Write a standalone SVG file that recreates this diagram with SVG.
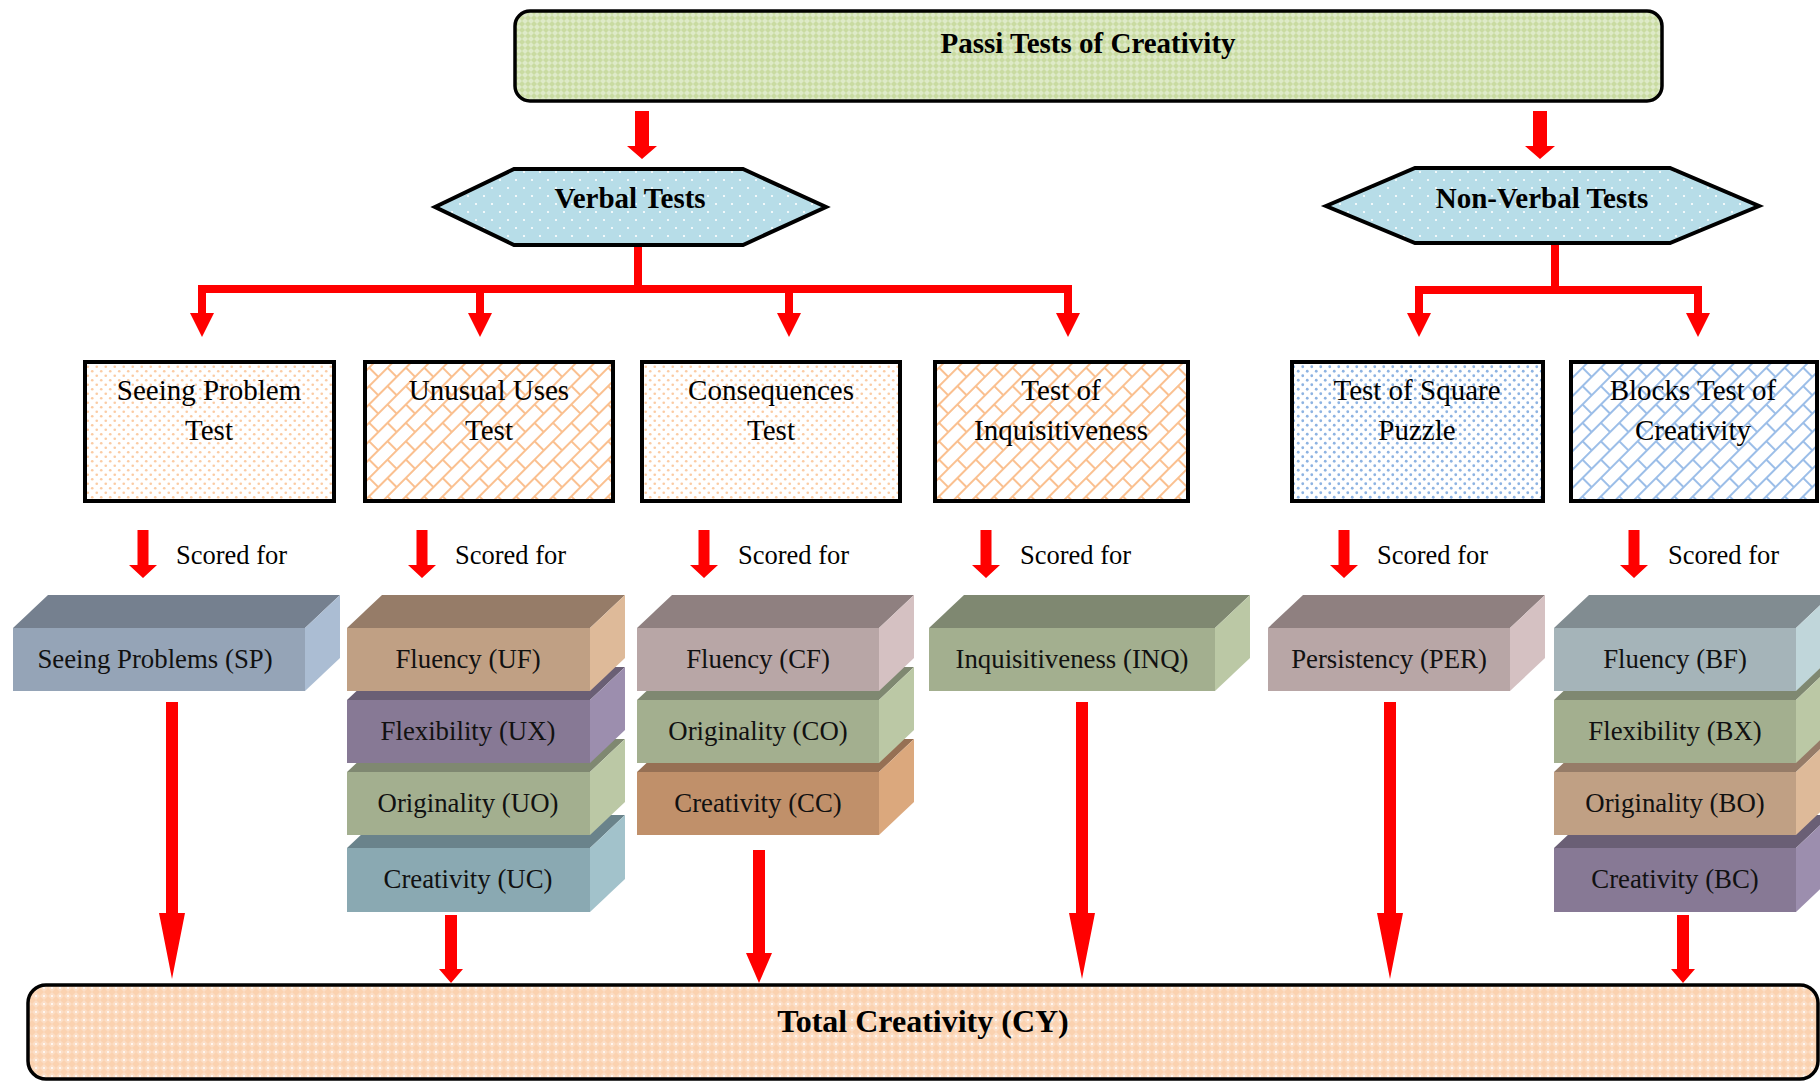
<svg xmlns="http://www.w3.org/2000/svg" width="1820" height="1081" viewBox="0 0 1820 1081">
<style>
.box{stroke:#000;stroke-width:4}
.rbox{stroke:#000;stroke-width:3.5}
.t{font-family:"Liberation Serif","Times New Roman",serif;fill:#000;text-anchor:middle}
.tb{font-family:"Liberation Serif","Times New Roman",serif;font-weight:bold;fill:#000;text-anchor:middle}
.s{font-family:"Liberation Serif","Times New Roman",serif;fill:#000;font-size:26.5px}
.bt{font-family:"Liberation Serif","Times New Roman",serif;fill:#111;font-size:26.8px;text-anchor:middle}
.red{fill:#FF0000}
.redl{stroke:#FF0000;stroke-width:8;fill:none}
</style>
<defs>
<pattern id="pGreen" width="6" height="6" patternUnits="userSpaceOnUse">
<rect width="6" height="6" fill="#C9DBA1"/>
<path d="M0 3 L3 0 L6 3 L3 6 Z" fill="#DEEAC8"/>
</pattern>
<pattern id="pBlue" width="16" height="16" patternUnits="userSpaceOnUse">
<rect width="16" height="16" fill="#B7DDE8"/>
<circle cx="4" cy="4" r="1.1" fill="#FFFFFF"/>
<circle cx="12" cy="12" r="1.1" fill="#FFFFFF"/>
</pattern>
<pattern id="pOrDot" width="9" height="9" patternUnits="userSpaceOnUse">
<rect width="9" height="9" fill="#FFFFFF"/>
<circle cx="2.25" cy="2.25" r="1.3" fill="#FBCBA3"/>
<circle cx="6.75" cy="6.75" r="1.3" fill="#FBCBA3"/>
</pattern>
<pattern id="pOrBrick" width="26" height="26" patternUnits="userSpaceOnUse" patternTransform="rotate(-45)">
<rect width="26" height="26" fill="#FFFFFF"/>
<path d="M0 1 H26 M0 14 H26 M1 0 V13 M14 13 V26" stroke="#FAC090" stroke-width="2"/>
</pattern>
<pattern id="pBlDot" width="9" height="9" patternUnits="userSpaceOnUse">
<rect width="9" height="9" fill="#FFFFFF"/>
<circle cx="2.25" cy="2.25" r="1.4" fill="#8DB3E2"/>
<circle cx="6.75" cy="6.75" r="1.4" fill="#8DB3E2"/>
</pattern>
<pattern id="pBlBrick" width="26" height="26" patternUnits="userSpaceOnUse" patternTransform="rotate(-45)">
<rect width="26" height="26" fill="#FFFFFF"/>
<path d="M0 1 H26 M0 14 H26 M1 0 V13 M14 13 V26" stroke="#9CBEE8" stroke-width="2"/>
</pattern>
<pattern id="pPeach" width="8" height="8" patternUnits="userSpaceOnUse">
<rect width="8" height="8" fill="#FBD2B0"/>
<path d="M0 4 L4 0 L8 4 L4 8 Z" fill="#FCDEC6"/>
<circle cx="4" cy="4" r="1" fill="#FFFFFF"/>
</pattern>
</defs>

<g id="connectors">
<polygon class="red" points="635,111 649,111 649,146 657,146 642,159 627,146 635,146"/>
<polygon class="red" points="1533,111 1547,111 1547,146 1555,146 1540,159 1525,146 1533,146"/>
<path class="redl" d="M638 245 V289 M198 289 H1072"/>
<polygon class="red" points="198,285 206,285 206,313 214,313 202,337 190,313 198,313"/>
<polygon class="red" points="476,285 484,285 484,313 492,313 480,337 468,313 476,313"/>
<polygon class="red" points="785,285 793,285 793,313 801,313 789,337 777,313 785,313"/>
<polygon class="red" points="1064,285 1072,285 1072,313 1080,313 1068,337 1056,313 1064,313"/>
<path class="redl" d="M1555 243 V290 M1415 290 H1702"/>
<polygon class="red" points="1415,286 1423,286 1423,313 1431,313 1419,337 1407,313 1415,313"/>
<polygon class="red" points="1694,286 1702,286 1702,313 1710,313 1698,337 1686,313 1694,313"/>
<polygon class="red" points="137.5,530 148.5,530 148.5,565 157,565 143,578 129,565 137.5,565"/>
<polygon class="red" points="416.5,530 427.5,530 427.5,565 436,565 422,578 408,565 416.5,565"/>
<polygon class="red" points="698.5,530 709.5,530 709.5,565 718,565 704,578 690,565 698.5,565"/>
<polygon class="red" points="980.5,530 991.5,530 991.5,565 1000,565 986,578 972,565 980.5,565"/>
<polygon class="red" points="1338.5,530 1349.5,530 1349.5,565 1358,565 1344,578 1330,565 1338.5,565"/>
<polygon class="red" points="1628.5,530 1639.5,530 1639.5,565 1648,565 1634,578 1620,565 1628.5,565"/>
<polygon class="red" points="166,702 178,702 178,913 185,913 172,979 159,913 166,913"/>
<polygon class="red" points="1076,702 1088,702 1088,913 1095,913 1082,979 1069,913 1076,913"/>
<polygon class="red" points="1384,702 1396,702 1396,913 1403,913 1390,979 1377,913 1384,913"/>
<polygon class="red" points="445,915 457,915 457,969 463,969 451,983 439,969 445,969"/>
<polygon class="red" points="1677,915 1689,915 1689,969 1695,969 1683,983 1671,969 1677,969"/>
<polygon class="red" points="753,850 765,850 765,953 772,953 759,983 746,953 753,953"/>
</g>

<g id="scored-labels">
<text class="s" x="176" y="564">Scored for</text>
<text class="s" x="455" y="564">Scored for</text>
<text class="s" x="738" y="564">Scored for</text>
<text class="s" x="1020" y="564">Scored for</text>
<text class="s" x="1377" y="564">Scored for</text>
<text class="s" x="1668" y="564">Scored for</text>
</g>

<g id="passi">
<rect class="rbox" x="515" y="11" width="1147" height="90" rx="15" fill="url(#pGreen)"/>
<text class="tb" x="1088" y="53" font-size="29">Passi Tests of Creativity</text>
</g>

<g id="verbal">
<polygon class="box" points="435,207 514,169 743,169 826,207 743,245 514,245" fill="url(#pBlue)"/>
<text class="tb" x="630" y="208" font-size="29">Verbal Tests</text>
</g>

<g id="nonverbal">
<polygon class="box" points="1326,206 1415,168 1670,168 1759,206 1670,243 1415,243" fill="url(#pBlue)"/>
<text class="tb" x="1542" y="208" font-size="29">Non-Verbal Tests</text>
</g>

<g id="seeing-problem-test">
<rect class="box" x="85" y="362" width="249" height="139" fill="url(#pOrDot)"/>
<text class="t" x="209" y="400" font-size="29">Seeing Problem</text>
<text class="t" x="209" y="440" font-size="29">Test</text>
</g>
<g id="unusual-uses-test">
<rect class="box" x="365" y="362" width="248" height="139" fill="url(#pOrBrick)"/>
<text class="t" x="489" y="400" font-size="29">Unusual Uses</text>
<text class="t" x="489" y="440" font-size="29">Test</text>
</g>
<g id="consequences-test">
<rect class="box" x="642" y="362" width="258" height="139" fill="url(#pOrDot)"/>
<text class="t" x="771" y="400" font-size="29">Consequences</text>
<text class="t" x="771" y="440" font-size="29">Test</text>
</g>
<g id="inquisitiveness-test">
<rect class="box" x="935" y="362" width="253" height="139" fill="url(#pOrBrick)"/>
<text class="t" x="1061" y="400" font-size="29">Test of</text>
<text class="t" x="1061" y="440" font-size="29">Inquisitiveness</text>
</g>
<g id="square-puzzle-test">
<rect class="box" x="1292" y="362" width="251" height="139" fill="url(#pBlDot)"/>
<text class="t" x="1417" y="400" font-size="29">Test of Square</text>
<text class="t" x="1417" y="440" font-size="29">Puzzle</text>
</g>
<g id="blocks-test">
<rect class="box" x="1571" y="362" width="246" height="139" fill="url(#pBlBrick)"/>
<text class="t" x="1693" y="400" font-size="29">Blocks Test of</text>
<text class="t" x="1693" y="440" font-size="29">Creativity</text>
</g>

<g id="sp">
<polygon points="13,628 48,595 340,595 305,628" fill="#75808F"/>
<polygon points="305,628 340,595 340,658 305,691" fill="#ABBDD3"/>
<rect x="13" y="628" width="292" height="63" fill="#95A4B7"/>
<text class="bt" x="155" y="668">Seeing Problems (SP)</text>
</g>

<g id="uc">
<polygon points="347,848 382,815 625,815 590,848" fill="#6A838B"/>
<polygon points="590,848 625,815 625,879 590,912" fill="#A2C2CB"/>
<rect x="347" y="848" width="243" height="64" fill="#8AA9B2"/>
<text class="bt" x="468" y="888">Creativity (UC)</text>
</g>
<g id="uo">
<polygon points="347,772 382,739 625,739 590,772" fill="#7F8871"/>
<polygon points="590,772 625,739 625,802 590,835" fill="#BBC8A5"/>
<rect x="347" y="772" width="243" height="63" fill="#A3AF8F"/>
<text class="bt" x="468" y="812">Originality (UO)</text>
</g>
<g id="ux">
<polygon points="347,700 382,667 625,667 590,700" fill="#6A5F75"/>
<polygon points="590,700 625,667 625,730 590,763" fill="#9C8EAE"/>
<rect x="347" y="700" width="243" height="63" fill="#877995"/>
<text class="bt" x="468" y="740">Flexibility (UX)</text>
</g>
<g id="uf">
<polygon points="347,628 382,595 625,595 590,628" fill="#967C68"/>
<polygon points="590,628 625,595 625,658 590,691" fill="#DEBA99"/>
<rect x="347" y="628" width="243" height="63" fill="#C0A084"/>
<text class="bt" x="468" y="668">Fluency (UF)</text>
</g>

<g id="cc">
<polygon points="637,772 672,739 914,739 879,772" fill="#967054"/>
<polygon points="879,772 914,739 914,802 879,835" fill="#DBA87D"/>
<rect x="637" y="772" width="242" height="63" fill="#C0906A"/>
<text class="bt" x="758" y="812">Creativity (CC)</text>
</g>
<g id="co">
<polygon points="637,700 672,667 914,667 879,700" fill="#7F8871"/>
<polygon points="879,700 914,667 914,730 879,763" fill="#BBC8A5"/>
<rect x="637" y="700" width="242" height="63" fill="#A3AF8F"/>
<text class="bt" x="758" y="740">Originality (CO)</text>
</g>
<g id="cf">
<polygon points="637,628 672,595 914,595 879,628" fill="#8F8080"/>
<polygon points="879,628 914,595 914,658 879,691" fill="#D5C1C2"/>
<rect x="637" y="628" width="242" height="63" fill="#B8A6A6"/>
<text class="bt" x="758" y="668">Fluency (CF)</text>
</g>

<g id="inq">
<polygon points="929,628 964,595 1250,595 1215,628" fill="#7F8871"/>
<polygon points="1215,628 1250,595 1250,658 1215,691" fill="#BBC8A5"/>
<rect x="929" y="628" width="286" height="63" fill="#A3AF8F"/>
<text class="bt" x="1072" y="668">Inquisitiveness (INQ)</text>
</g>

<g id="per">
<polygon points="1268,628 1303,595 1545,595 1510,628" fill="#8F8080"/>
<polygon points="1510,628 1545,595 1545,658 1510,691" fill="#D5C1C2"/>
<rect x="1268" y="628" width="242" height="63" fill="#B8A6A6"/>
<text class="bt" x="1389" y="668">Persistency (PER)</text>
</g>

<g id="bc">
<polygon points="1554,848 1589,815 1831,815 1796,848" fill="#6A5F75"/>
<polygon points="1796,848 1831,815 1831,879 1796,912" fill="#9C8EAE"/>
<rect x="1554" y="848" width="242" height="64" fill="#877995"/>
<text class="bt" x="1675" y="888">Creativity (BC)</text>
</g>
<g id="bo">
<polygon points="1554,772 1589,739 1831,739 1796,772" fill="#967C68"/>
<polygon points="1796,772 1831,739 1831,802 1796,835" fill="#DEBA99"/>
<rect x="1554" y="772" width="242" height="63" fill="#C0A084"/>
<text class="bt" x="1675" y="812">Originality (BO)</text>
</g>
<g id="bx">
<polygon points="1554,700 1589,667 1831,667 1796,700" fill="#7F8871"/>
<polygon points="1796,700 1831,667 1831,730 1796,763" fill="#BBC8A5"/>
<rect x="1554" y="700" width="242" height="63" fill="#A3AF8F"/>
<text class="bt" x="1675" y="740">Flexibility (BX)</text>
</g>
<g id="bf">
<polygon points="1554,628 1589,595 1831,595 1796,628" fill="#818C91"/>
<polygon points="1796,628 1831,595 1831,658 1796,691" fill="#C0D6DA"/>
<rect x="1554" y="628" width="242" height="63" fill="#A5B4B9"/>
<text class="bt" x="1675" y="668">Fluency (BF)</text>
</g>

<g id="total">
<rect class="rbox" x="28" y="985" width="1790" height="94" rx="18" fill="url(#pPeach)"/>
<text class="tb" x="923" y="1032" font-size="32">Total Creativity (CY)</text>
</g>
</svg>
